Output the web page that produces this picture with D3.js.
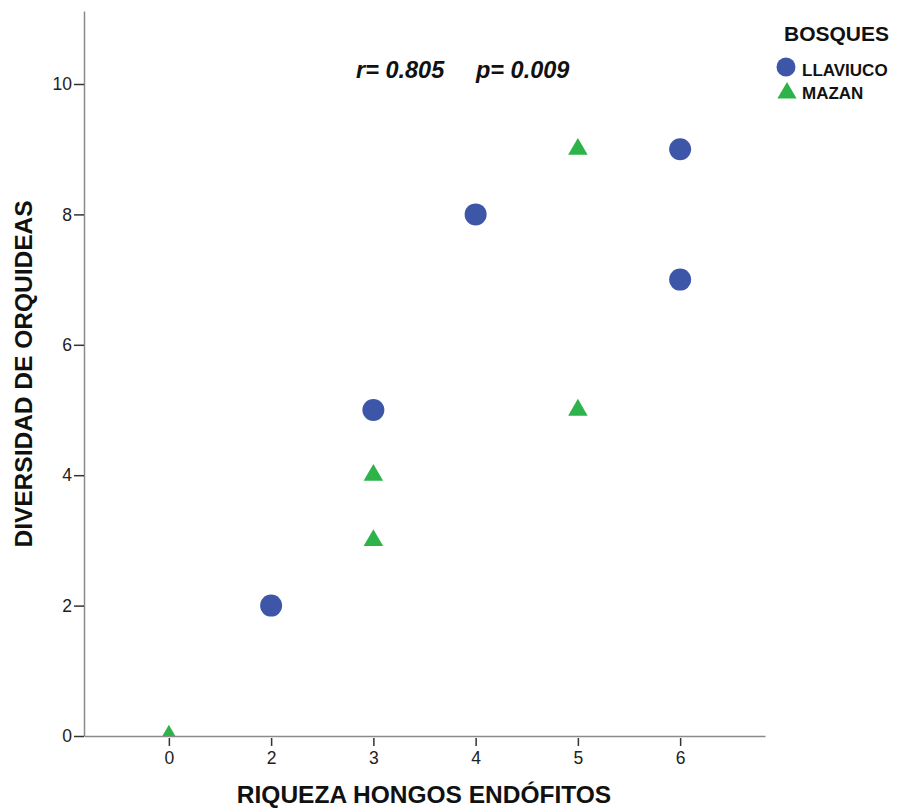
<!DOCTYPE html>
<html>
<head>
<meta charset="utf-8">
<script src="https://cdn.jsdelivr.net/npm/d3@7"></script>
<style>
  html, body { margin: 0; padding: 0; background: #fff; }
  svg { display: block; font-family: "Liberation Sans", Arial, sans-serif; }
</style>
</head>
<body>
<svg id="chart" width="898" height="809"></svg>
<script>
// ---- data ----
const xCategories = ["0", "2", "3", "4", "5", "6"];
const yTicks = [0, 2, 4, 6, 8, 10];
const groups = ["LLAVIUCO", "MAZAN"];
const llaviucoX = ["2", "3", "4", "6", "6"];
const llaviucoY = [2, 5, 8, 9, 7];
const mazanX = ["0", "3", "3", "5", "5"];
const mazanY = [0, 3, 4, 5, 9];
const statsR = "r= 0.805";
const statsP = "p= 0.009";
const xTitle = "RIQUEZA HONGOS ENDÓFITOS";
const yTitle = "DIVERSIDAD DE ORQUIDEAS";
const legendTitle = "BOSQUES";

// ---- layout ----
const svg = d3.select("#chart");
const pLeft = 84, pRight = 765, pTop = 11, pBottom = 736;
const colors = { LLAVIUCO: "#3d56a8", MAZAN: "#2db34a" };

const x = d3.scalePoint().domain(xCategories).range([pLeft, pRight]).padding(0.83);
const yMax = (pBottom - pTop) / ((pBottom - 84) / 10);
const y = d3.scaleLinear().domain([0, yMax]).range([pBottom, pTop]);

// clip for markers
svg.append("defs").append("clipPath").attr("id", "plotclip")
  .append("rect").attr("x", pLeft).attr("y", 0).attr("width", pRight - pLeft + 20).attr("height", pBottom);

// markers
const circleSym = d3.symbol().type(d3.symbolCircle).size(Math.PI * 11 * 11);
const triSym = d3.symbol().type(d3.symbolTriangle).size(165);

const gm = svg.append("g").attr("clip-path", "url(#plotclip)");
gm.selectAll("path.ll").data(llaviucoX.map((c, i) => ({ x: c, y: llaviucoY[i] })))
  .join("path").attr("class", "ll")
  .attr("d", circleSym)
  .attr("transform", d => `translate(${x(d.x)},${y(d.y)})`)
  .attr("fill", colors.LLAVIUCO);
gm.selectAll("path.mz").data(mazanX.map((c, i) => ({ x: c, y: mazanY[i] })))
  .join("path").attr("class", "mz")
  .attr("d", triSym)
  .attr("transform", d => `translate(${x(d.x)},${y(d.y)})`)
  .attr("fill", colors.MAZAN);

// axes
const yAxis = d3.axisLeft(y).tickValues(yTicks).tickSize(10).tickPadding(2).tickSizeOuter(0);
const gy = svg.append("g").attr("transform", `translate(${pLeft},0)`).call(yAxis);
const xAxis = d3.axisBottom(x).tickSize(10).tickPadding(6).tickSizeOuter(0);
const gx = svg.append("g").attr("transform", `translate(0,${pBottom})`).call(xAxis);

[gx, gy].forEach(g => {
  g.select(".domain").attr("stroke", "#8a8a8a").attr("stroke-width", 1.5);
  g.selectAll(".tick line").attr("stroke", "#333").attr("stroke-width", 1.5);
  g.selectAll(".tick text").attr("fill", "#222").style("font-size", "17.5px")
    .style("font-family", "'Liberation Sans', Arial, sans-serif");
});
gx.selectAll(".tick line").attr("y1", 2);

// titles
svg.append("text").attr("x", 424).attr("y", 803).attr("text-anchor", "middle")
  .style("font-size", "24.5px").style("font-weight", "bold").attr("fill", "#111").text(xTitle);
svg.append("text").attr("transform", "translate(32,374) rotate(-90)").attr("text-anchor", "middle")
  .style("font-size", "24.5px").style("font-weight", "bold").attr("fill", "#111").text(yTitle);

// stats
svg.append("text").attr("x", 356).attr("y", 78)
  .style("font-size", "23.5px").style("font-weight", "bold").style("font-style", "italic")
  .attr("fill", "#111").text(statsR);
svg.append("text").attr("x", 476).attr("y", 78)
  .style("font-size", "23.5px").style("font-weight", "bold").style("font-style", "italic")
  .attr("fill", "#111").text(statsP);

// legend
svg.append("text").attr("x", 784).attr("y", 41)
  .style("font-size", "21px").style("font-weight", "bold").attr("fill", "#111").text(legendTitle);
const legItems = svg.selectAll("g.leg").data(groups).join("g").attr("class", "leg");
legItems.append("path")
  .attr("d", d => d === "LLAVIUCO" ? d3.symbol().type(d3.symbolCircle).size(Math.PI * 9.5 * 9.5)() : d3.symbol().type(d3.symbolTriangle).size(160)())
  .attr("transform", (d, i) => i === 0 ? "translate(786,67)" : "translate(787,93)")
  .attr("fill", d => colors[d]);
legItems.append("text")
  .attr("x", 802).attr("y", (d, i) => i === 0 ? 76 : 99)
  .style("font-size", "17px").style("font-weight", "bold").attr("fill", "#111")
  .text(d => d);
</script>
</body>
</html>
